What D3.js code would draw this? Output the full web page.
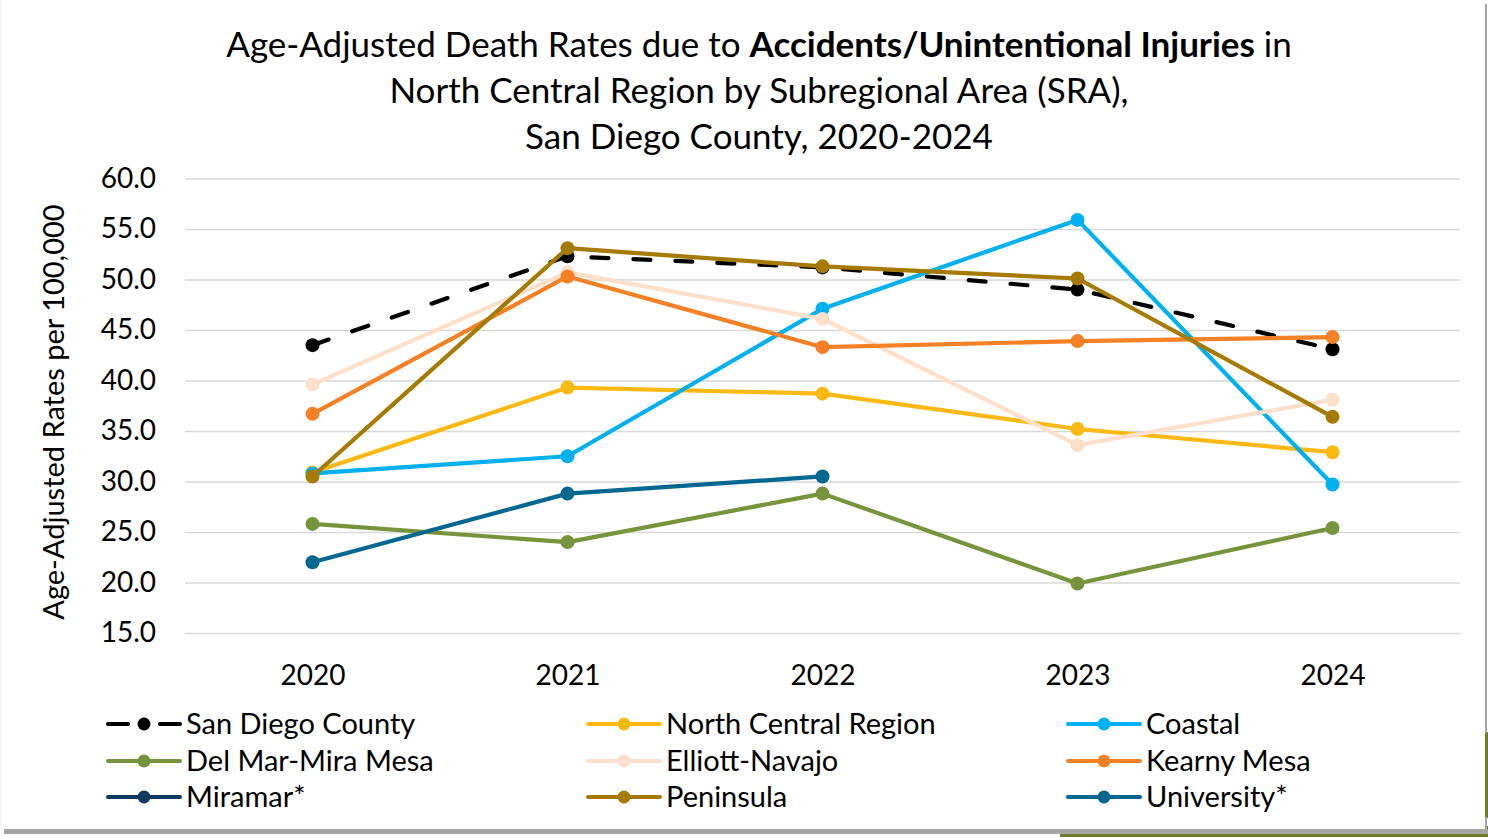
<!DOCTYPE html>
<html>
<head>
<meta charset="utf-8">
<script src="https://cdn.jsdelivr.net/npm/d3@7"></script>
<style>
  html, body { margin: 0; padding: 0; background: #fff; }
  svg { display: block; font-family: Lato, "Open Sans", sans-serif; }
</style>
</head>
<body>
<div id="chart"></div>
<script>
// data
var years = ['2020', '2021', '2022', '2023', '2024'];
var yTicks = [15, 20, 25, 30, 35, 40, 45, 50, 55, 60];

var seriesNames = ['San Diego County', 'North Central Region', 'Coastal',
    'Del Mar-Mira Mesa', 'Elliott-Navajo', 'Kearny Mesa',
    'Miramar*', 'Peninsula', 'University*'];
var seriesColors = ['#000000', '#FDB913', '#00B0F0',
    '#77933C', '#FCE0CC', '#F58025',
    '#0E3A60', '#A67A00', '#006890'];

var sanDiegoCounty  = [43.5, 52.3, 51.2, 49.0, 43.1];
var northCentral    = [30.9, 39.3, 38.7, 35.2, 32.9];
var coastal         = [30.8, 32.5, 47.1, 55.9, 29.7];
var delMarMiraMesa  = [25.8, 24.0, 28.8, 19.9, 25.4];
var elliottNavajo   = [39.6, 50.7, 46.1, 33.6, 38.1];
var kearnyMesa      = [36.7, 50.3, 43.3, 43.9, 44.3];
var miramar         = [null, null, null, null, null];
var peninsula       = [30.5, 53.1, 51.3, 50.1, 36.4];
var university      = [22.0, 28.8, 30.5, null, null];

var seriesValues = [sanDiegoCounty, northCentral, coastal, delMarMiraMesa,
    elliottNavajo, kearnyMesa, miramar, peninsula, university];

var W = 1488, H = 837;

var svg = d3.select('#chart').append('svg')
    .attr('width', W)
    .attr('height', H);

// card frame with shadow and the green shape behind it
svg.append('rect').attr('x', 1060).attr('y', 826).attr('width', 428).attr('height', 11).attr('fill', '#6E7D25');
svg.append('rect').attr('x', 1480).attr('y', 732).attr('width', 8).attr('height', 86).attr('fill', '#6E7D25');
svg.append('rect').attr('x', 4).attr('y', 829).attr('width', 1484).attr('height', 5).attr('fill', '#a6a6a6');
svg.append('rect').attr('x', 1485).attr('y', 4).attr('width', 2).attr('height', 729).attr('fill', '#a6a6a6');
svg.append('rect').attr('x', 1485).attr('y', 817).attr('width', 2).attr('height', 16).attr('fill', '#a6a6a6');
svg.append('rect').attr('x', 0).attr('y', 0).attr('width', 1485).attr('height', 829).attr('fill', '#fff');
svg.append('line').attr('x1', 1).attr('x2', 1).attr('y1', 0).attr('y2', 829)
    .attr('stroke', '#eeeeee').attr('stroke-width', 1);

// title
var title = svg.append('text')
    .attr('text-anchor', 'middle')
    .attr('font-size', 35)
    .attr('fill', '#000');
var t1 = title.append('tspan').attr('x', 759).attr('y', 57);
t1.append('tspan').text('Age-Adjusted Death Rates due to ');
t1.append('tspan').attr('font-weight', 'bold').text('Accidents/Unintentional Injuries');
t1.append('tspan').text(' in');
title.append('tspan').attr('x', 759).attr('y', 103).text('North Central Region by Subregional Area (SRA),');
title.append('tspan').attr('x', 759).attr('y', 149).text('San Diego County, 2020-2024');

// scales
var x = d3.scalePoint()
    .domain(years)
    .range([185, 1460])
    .padding(0.5);

var y = d3.scaleLinear()
    .domain([15, 60])
    .range([633, 178.5]);

// gridlines
svg.append('g')
    .attr('transform', 'translate(185,0)')
    .call(d3.axisLeft(y).tickValues(yTicks).tickSize(-1275).tickFormat(''))
    .call(function (g) {
        g.select('.domain').remove();
        g.selectAll('.tick line').attr('stroke', '#d9d9d9').attr('stroke-width', 1.5);
    });

// y tick labels
svg.append('g')
    .attr('transform', 'translate(156,0)')
    .call(d3.axisLeft(y).tickValues(yTicks).tickSize(0).tickPadding(0).tickFormat(d3.format('.1f')))
    .call(function (g) {
        g.select('.domain').remove();
        g.selectAll('text')
            .attr('font-family', 'Lato, sans-serif')
            .attr('font-size', 28)
            .attr('fill', '#000');
    });

// x tick labels
svg.append('g')
    .attr('transform', 'translate(0,633)')
    .call(d3.axisBottom(x).tickSize(0).tickPadding(32))
    .call(function (g) {
        g.select('.domain').remove();
        g.selectAll('text')
            .attr('font-family', 'Lato, sans-serif')
            .attr('font-size', 28)
            .attr('fill', '#000');
    });

// y axis title
svg.append('text')
    .attr('transform', 'translate(64,412) rotate(-90)')
    .attr('text-anchor', 'middle')
    .attr('font-size', 29)
    .attr('fill', '#000')
    .text('Age-Adjusted Rates per 100,000');

// lines
var line = d3.line()
    .defined(function (d) { return d != null; })
    .x(function (d, i) { return x(years[i]); })
    .y(function (d) { return y(d); });

var plot = svg.append('g');

seriesValues.forEach(function (vals, s) {
    var g = plot.append('g');
    g.append('path')
        .datum(vals)
        .attr('fill', 'none')
        .attr('stroke', seriesColors[s])
        .attr('stroke-width', 4.2)
        .attr('stroke-linejoin', 'round')
        .attr('stroke-linecap', 'round')
        .attr('stroke-dasharray', s === 0 ? '17,25' : null)
        .attr('d', line);
    g.selectAll('circle')
        .data(vals.map(function (v, i) { return {v: v, i: i}; }).filter(function (d) { return d.v != null; }))
        .enter()
        .append('circle')
        .attr('cx', function (d) { return x(years[d.i]); })
        .attr('cy', function (d) { return y(d.v); })
        .attr('r', 7)
        .attr('fill', seriesColors[s]);
});

// legend, 3 columns x 3 rows
var legendCols = [108, 588, 1068];
var legendRows = [724, 761, 797];

var legend = svg.append('g');
seriesNames.forEach(function (name, s) {
    var lx = legendCols[s % 3], ly = legendRows[Math.floor(s / 3)];
    var item = legend.append('g').attr('transform', 'translate(' + lx + ',' + ly + ')');
    if (s === 0) {
        item.append('line').attr('x1', 0).attr('x2', 20).attr('y1', 0).attr('y2', 0)
            .attr('stroke', seriesColors[s]).attr('stroke-width', 4).attr('stroke-linecap', 'round');
        item.append('line').attr('x1', 52).attr('x2', 72).attr('y1', 0).attr('y2', 0)
            .attr('stroke', seriesColors[s]).attr('stroke-width', 4).attr('stroke-linecap', 'round');
    } else {
        item.append('line').attr('x1', 0).attr('x2', 72).attr('y1', 0).attr('y2', 0)
            .attr('stroke', seriesColors[s]).attr('stroke-width', 4).attr('stroke-linecap', 'round');
    }
    item.append('circle').attr('cx', 36).attr('cy', 0).attr('r', 6.5).attr('fill', seriesColors[s]);
    item.append('text')
        .attr('x', 78)
        .attr('y', 10)
        .attr('font-size', 29)
        .attr('fill', '#000')
        .text(name);
});
</script>
</body>
</html>
